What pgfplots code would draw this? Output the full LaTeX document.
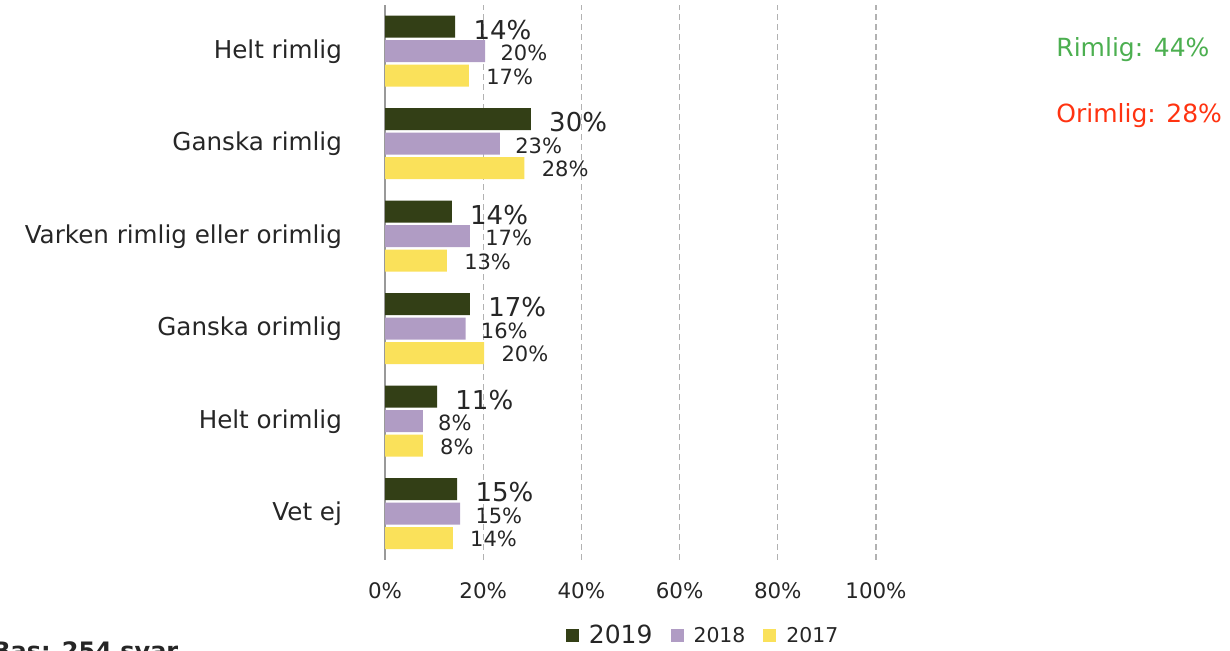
\documentclass[border=0pt]{standalone}
\usepackage{pgfplots}
\pgfplotsset{compat=1.18}
\usepackage{fontspec}
\setmainfont{DejaVu Sans}
\definecolor{c19}{HTML}{333F16}
\definecolor{c18}{HTML}{B09CC4}
\definecolor{c17}{HTML}{FAE15A}
\definecolor{txt}{HTML}{262626}
\definecolor{grn}{HTML}{4CAF50}
\definecolor{rd}{HTML}{FF3311}
\begin{document}
\begin{tikzpicture}
\path[use as bounding box] (0pt,0pt) rectangle (615pt,325.5pt);
\begin{axis}[
    at={(192.5pt,45.5pt)}, anchor=south west,
    scale only axis, width=245.5pt, height=277.5pt,
    xbar, bar width=11pt,
    xmin=0, xmax=100, ymin=-0.5, ymax=5.5,
    axis line style={draw=none},
    major tick length=0pt,
    xtick={20,40,60,80,100},
    extra x ticks={0},
    extra x tick style={grid style={solid, gray!80, line width=0.6pt}},
    xticklabel={\pgfmathprintnumber{\tick}\%},
    extra x tick labels={0\%},
    xmajorgrids,
    grid style={dash pattern=on 3pt off 2pt, gray!60, line width=0.6pt},
    /pgf/number format/assume math mode=true,
    xticklabel style={font=\fontsize{10.7}{12}\selectfont, text=txt, yshift=-8pt},
    ytick={0,...,5},
    yticklabels={Vet ej, Helt orimlig, Ganska orimlig, Varken rimlig eller orimlig, Ganska rimlig, Helt rimlig},
    yticklabel style={font=\fontsize{12.3}{14}\selectfont, text=txt, xshift=-18pt},
    point meta=x,
    nodes near coords={\pgfmathprintnumber[fixed,precision=0]{\pgfplotspointmeta}\%},
    nodes near coords style={anchor=west, inner sep=0pt, text=txt},
    legend style={at={(0.65,-0.137)}, anchor=center, draw=none, fill=none,
        legend columns=3, text=txt,
        nodes={inner xsep=2pt},
        /tikz/every odd column/.style={column sep=3pt},
        /tikz/every even column/.style={column sep=7pt}},
    legend image code/.code={\fill[#1] (0pt,-3pt) rectangle (6.5pt,3.5pt);},
]
\addplot[fill=c19, draw=none, bar shift=12.25pt,
    nodes near coords style={font=\fontsize{13}{13}\selectfont, xshift=9pt, yshift=-1.5pt}]
    coordinates {(14.3,5) (29.7,4) (13.6,3) (17.3,2) (10.6,1) (14.7,0)};
\addlegendentry{\fontsize{12.5}{13}\selectfont 2019}
\addplot[fill=c18, draw=none, bar shift=0pt,
    nodes near coords style={font=\fontsize{10.5}{11}\selectfont, xshift=7.5pt, yshift=-1pt}]
    coordinates {(20.4,5) (23.4,4) (17.3,3) (16.4,2) (7.7,1) (15.3,0)};
\addlegendentry{\fontsize{10.2}{11}\selectfont 2018}
\addplot[fill=c17, draw=none, bar shift=-12.25pt,
    nodes near coords style={font=\fontsize{10.5}{11}\selectfont, xshift=8.5pt, yshift=-0.5pt}]
    coordinates {(17.1,5) (28.4,4) (12.6,3) (20.2,2) (7.7,1) (13.8,0)};
\addlegendentry{\fontsize{10.2}{11}\selectfont 2017}
\end{axis}
\node[anchor=west, inner sep=0pt, text=grn, font=\fontsize{12.5}{13}\selectfont] at (528pt,300.5pt) {Rimlig: 44\%};
\node[anchor=west, inner sep=0pt, text=rd, font=\fontsize{12.5}{13}\selectfont] at (528pt,267.5pt) {Orimlig: 28\%};
\node[anchor=north west, inner sep=0pt, text=txt, font=\fontsize{12}{13}\selectfont\bfseries] at (-4pt,5pt) {Bas: 254 svar};
\end{tikzpicture}
\end{document}
